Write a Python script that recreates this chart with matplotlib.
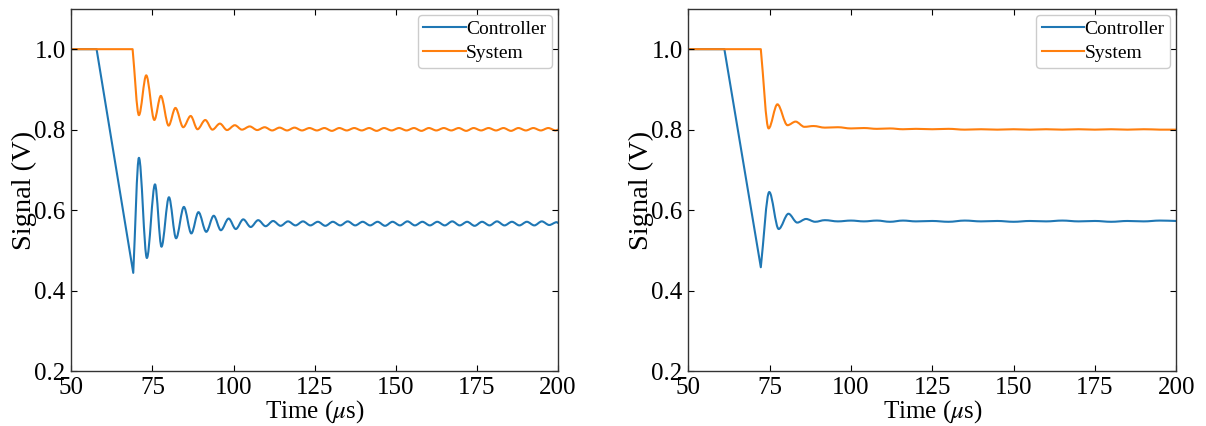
import matplotlib
matplotlib.use("Agg")
import matplotlib.pyplot as plt
from matplotlib.path import Path
from matplotlib.patches import PathPatch
from matplotlib.lines import Line2D

# ---------------- data ----------------
# Left panel: controller (blue)
ctrl_t_L = [50, 57.8, 69.1, 70.85, 73.3, 75.8, 77.8, 80.1, 82.3, 84.7, 87.0,
            89.2, 91.6, 93.9, 96.1, 98.5, 100.7, 103.0, 105.3, 107.6, 109.9,
            112.2, 114.5, 116.8, 119.1, 121.4, 123.7, 126.0, 128.3, 130.6,
            132.9, 135.2, 137.5, 139.8, 142.1, 144.4, 146.7, 149.0, 151.3,
            153.6, 155.9, 158.2, 160.5, 162.8, 165.1, 167.4, 169.7, 172.0,
            174.3, 176.6, 178.9, 181.2, 183.5, 185.8, 188.1, 190.4, 192.7,
            195.0, 197.3, 199.6, 200]
ctrl_v_L = [1.0, 1.0, 0.444, 0.730, 0.481, 0.664, 0.509, 0.632, 0.530, 0.608,
            0.542, 0.595, 0.546, 0.586, 0.550, 0.579, 0.553, 0.577, 0.558,
            0.575, 0.560, 0.573, 0.561, 0.572, 0.562, 0.572, 0.562, 0.571,
            0.561, 0.571, 0.562, 0.572, 0.562, 0.571, 0.562, 0.571, 0.561,
            0.571, 0.562, 0.572, 0.562, 0.571, 0.562, 0.571, 0.562, 0.572,
            0.562, 0.571, 0.561, 0.571, 0.562, 0.572, 0.562, 0.571, 0.562,
            0.571, 0.562, 0.572, 0.563, 0.570, 0.568]

# Left panel: system (orange)
sys_t_L = [50, 68.9, 70.85, 73.1, 75.6, 77.6, 80.0, 82.1, 84.5, 86.8, 88.9,
           91.3, 93.5, 95.8, 98.0, 100.4, 102.6, 105.0, 107.3, 109.6, 111.9,
           114.2, 116.5, 118.8, 121.1, 123.4, 125.7, 128.0, 130.3, 132.6,
           134.9, 137.2, 139.5, 141.8, 144.1, 146.4, 148.7, 151.0, 153.3,
           155.6, 157.9, 160.2, 162.5, 164.8, 167.1, 169.4, 171.7, 174.0,
           176.3, 178.6, 180.9, 183.2, 185.5, 187.8, 190.1, 192.4, 194.7,
           197.0, 199.3, 200]
sys_v_L = [1.0, 1.0, 0.836, 0.935, 0.824, 0.884, 0.810, 0.854, 0.806, 0.834,
           0.801, 0.824, 0.800, 0.815, 0.799, 0.811, 0.800, 0.808, 0.799,
           0.806, 0.798, 0.805, 0.798, 0.805, 0.798, 0.804, 0.798, 0.804,
           0.797, 0.804, 0.798, 0.804, 0.798, 0.804, 0.797, 0.804, 0.798,
           0.804, 0.798, 0.804, 0.797, 0.804, 0.798, 0.804, 0.798, 0.804,
           0.797, 0.804, 0.798, 0.804, 0.798, 0.804, 0.797, 0.804, 0.798,
           0.804, 0.798, 0.804, 0.798, 0.800]

# Right panel: controller (blue)
ctrl_t_R = [50, 61.1, 72.3, 74.9, 77.8, 80.8, 83.5, 86.2, 89.0, 92.0, 96.0,
            100.0, 104.0, 108.0, 112.0, 116.0, 120.0, 125.0, 130.0, 135.0,
            140.0, 145.0, 150.0, 155.0, 160.0, 165.0, 170.0, 175.0, 180.0,
            185.0, 190.0, 195.0, 200.0]
ctrl_v_R = [1.0, 1.0, 0.458, 0.645, 0.553, 0.591, 0.569, 0.578, 0.571,
            0.575, 0.572, 0.574, 0.572, 0.574, 0.571, 0.574, 0.572, 0.573,
            0.571, 0.574, 0.572, 0.573, 0.571, 0.573, 0.572, 0.574, 0.572,
            0.573, 0.571, 0.573, 0.572, 0.574, 0.573]

# Right panel: system (orange)
sys_t_R = [50, 72.3, 74.7, 77.4, 80.5, 83.0, 85.7, 88.5, 92.0, 96.0, 100.0,
           104.0, 108.0, 112.0, 116.0, 120.0, 125.0, 130.0, 135.0, 140.0,
           145.0, 150.0, 155.0, 160.0, 165.0, 170.0, 175.0, 180.0, 185.0,
           190.0, 195.0, 200.0]
sys_v_R = [1.0, 1.0, 0.803, 0.863, 0.811, 0.820, 0.807, 0.809, 0.805,
           0.806, 0.803, 0.804, 0.802, 0.803, 0.801, 0.802, 0.801, 0.802,
           0.800, 0.801, 0.800, 0.801, 0.800, 0.801, 0.800, 0.801, 0.800,
           0.801, 0.800, 0.801, 0.800, 0.800]

x_ticks = [50, 75, 100, 125, 150, 175, 200]
y_ticks = [0.2, 0.4, 0.6, 0.8, 1.0]
labels = ["Controller", "System"]
BLUE, ORANGE = "#1f77b4", "#ff7f0e"


def smooth_path(t, v, n_corner):
    """Curve through the data points: local extrema (after the first
    n_corner points) get horizontal tangents, other points are corners."""
    n = len(t)
    smooth = []
    for i in range(n):
        ext = (0 < i < n - 1 and
               ((v[i] > v[i - 1] and v[i] > v[i + 1]) or
                (v[i] < v[i - 1] and v[i] < v[i + 1])))
        smooth.append(ext and i >= n_corner)
    verts = [(t[0], v[0])]
    codes = [Path.MOVETO]
    for i in range(n - 1):
        dt = t[i + 1] - t[i]
        dv = v[i + 1] - v[i]
        c1 = (t[i] + dt / 3, v[i]) if smooth[i] else (t[i] + dt / 3, v[i] + dv / 3)
        c2 = ((t[i + 1] - dt / 3, v[i + 1]) if smooth[i + 1]
              else (t[i + 1] - dt / 3, v[i + 1] - dv / 3))
        verts += [c1, c2, (t[i + 1], v[i + 1])]
        codes += [Path.CURVE4] * 3
    return Path(verts, codes)


# ---------------- styling ----------------
plt.rcParams["font.family"] = ["Liberation Serif", "DejaVu Serif"]
plt.rcParams["mathtext.fontset"] = "stix"

fig = plt.figure(figsize=(12.06, 4.26), dpi=100)
ax1 = fig.add_axes([0.0591, 0.129, 0.4036, 0.850])
ax2 = fig.add_axes([0.5707, 0.129, 0.4046, 0.850])

panels = [(ax1, ctrl_t_L, ctrl_v_L, 3, sys_t_L, sys_v_L, 2),
          (ax2, ctrl_t_R, ctrl_v_R, 3, sys_t_R, sys_v_R, 2)]

for ax, ct, cv, cn, st, sv, sn in panels:
    ax.add_patch(PathPatch(smooth_path(ct, cv, cn), fill=False,
                           edgecolor=BLUE, lw=1.5, capstyle="round",
                           joinstyle="round"))
    ax.add_patch(PathPatch(smooth_path(st, sv, sn), fill=False,
                           edgecolor=ORANGE, lw=1.5, capstyle="round",
                           joinstyle="round"))
    ax.set_xlim(50, 200)
    ax.set_ylim(0.2, 1.1)
    ax.set_xticks(x_ticks)
    ax.set_yticks(y_ticks)
    ax.set_yticklabels([f"{v:.1f}" for v in y_ticks])
    ax.tick_params(direction="in", top=True, right=True, labelsize=18,
                   length=4, width=0.8, pad=4)
    for s in ax.spines.values():
        s.set_linewidth(1.0)
        s.set_color("#333333")
    ax.set_xlabel(r"Time ($\mu$s)", fontsize=18, labelpad=0)
    ax.set_ylabel("Signal (V)", fontsize=20.5, labelpad=-1.5)
    handles = [Line2D([], [], color=BLUE, lw=1.5),
               Line2D([], [], color=ORANGE, lw=1.5)]
    ax.legend(handles, labels, loc="upper right", fontsize=14,
              handlelength=2.2, handletextpad=0.0, borderpad=0.3,
              labelspacing=0.3, borderaxespad=0.3, framealpha=1.0,
              edgecolor="#cccccc")

fig.savefig("out.png", dpi=100)
